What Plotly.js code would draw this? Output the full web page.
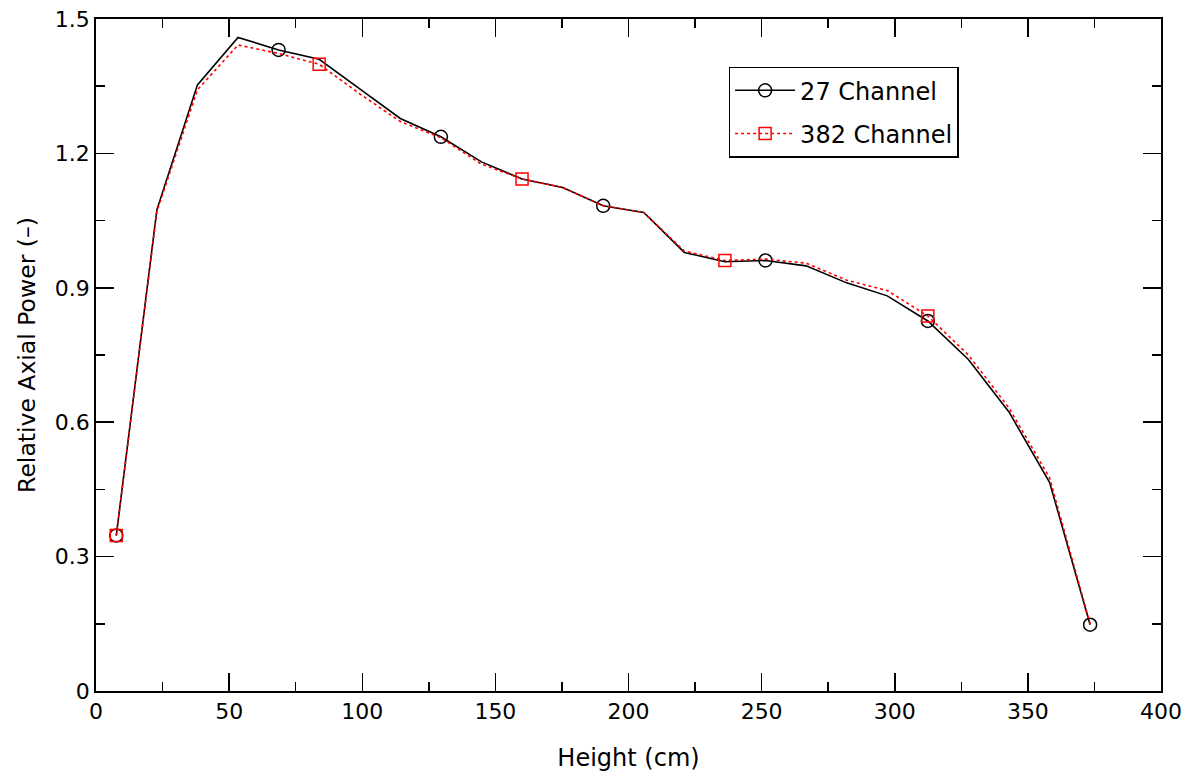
<!DOCTYPE html>
<html>
<head>
<meta charset="utf-8">
<script src="https://cdn.plot.ly/plotly-3.0.1.min.js"></script>
<style>html,body{margin:0;padding:0;background:#fff;}#chart{width:1194px;height:776px;}</style>
</head>
<body>
<div id="chart"></div>
<script>
// Axial node heights (cm)
var heights = [7.62, 22.86, 38.10, 53.34, 68.58, 83.82, 99.06, 114.30, 129.54, 144.78,
  160.02, 175.26, 190.50, 205.74, 220.98, 236.22, 251.46, 266.70, 281.94, 297.18,
  312.42, 327.66, 342.90, 358.14, 373.38];
var power27 = [0.347, 1.074, 1.353, 1.459, 1.431, 1.410, 1.344, 1.278, 1.237, 1.181,
  1.143, 1.124, 1.083, 1.068, 0.979, 0.958, 0.961, 0.949, 0.911, 0.882,
  0.826, 0.740, 0.623, 0.466, 0.148];
var power382 = [0.347, 1.070, 1.342, 1.442, 1.423, 1.399, 1.333, 1.271, 1.235, 1.176,
  1.143, 1.124, 1.083, 1.068, 0.982, 0.961, 0.964, 0.955, 0.917, 0.894,
  0.837, 0.750, 0.632, 0.476, 0.150];
var seriesNames = ['27 Channel', '382 Channel'];

var FONT = 'DejaVu Sans, Verdana, sans-serif';

function markerColors(n, every, col) {
  var c = [];
  for (var i = 0; i < n; i++) c.push(i % every === 0 ? col : 'rgba(0,0,0,0)');
  return c;
}

var traces = [
  {
    x: heights, y: power27, name: seriesNames[0], legendgroup: 'g1', type: 'scatter', mode: 'lines+markers',
    line: {color: '#000000', width: 1.6},
    marker: {symbol: 'circle-open', size: 13, color: markerColors(heights.length, 4, '#000000'), line: {width: 1.5}}
  },
  {
    x: heights, y: power382, name: seriesNames[1], legendgroup: 'g2', type: 'scatter', mode: 'lines+markers',
    line: {color: '#ff0000', width: 1.6, dash: 'dot'},
    marker: {symbol: 'square-open', size: 12, color: markerColors(heights.length, 5, '#ff0000'), line: {width: 1.5}}
  }
];

var axisCommon = {
  showgrid: false, zeroline: false, showline: true, linecolor: '#000', linewidth: 1.8,
  mirror: 'ticks', ticks: 'inside', ticklen: 18, tickwidth: 1.5, tickcolor: '#000',
  tickfont: {family: FONT, size: 22, color: '#000'}
};

var layout = {
  width: 1194, height: 776,
  margin: {l: 96, r: 33, t: 19, b: 85},
  paper_bgcolor: '#fff', plot_bgcolor: '#fff',
  showlegend: true,
  xaxis: Object.assign({}, axisCommon, {
    range: [0, 400], dtick: 50, tick0: 0,
    minor: {dtick: 25, ticks: 'inside', ticklen: 9, tickwidth: 1.5, tickcolor: '#000'},
    title: {text: 'Height (cm)', font: {family: FONT, size: 24, color: '#000'}, standoff: 26}
  }),
  yaxis: Object.assign({}, axisCommon, {
    range: [0, 1.5], dtick: 0.3, tick0: 0,
    minor: {dtick: 0.15, ticks: 'inside', ticklen: 9, tickwidth: 1.5, tickcolor: '#000'},
    title: {text: 'Relative Axial Power (–)', font: {family: FONT, size: 23.5, color: '#000'}, standoff: 12}
  }),
  legend: {
    x: 0.594, y: 0.929, xanchor: 'left', yanchor: 'top',
    bgcolor: '#fff', bordercolor: '#000', borderwidth: 1.5,
    font: {family: FONT, size: 24, color: '#000'},
    itemwidth: 60, tracegroupgap: 9
  }
};

Plotly.newPlot('chart', traces, layout, {displayModeBar: false, staticPlot: true});
</script>
</body>
</html>
